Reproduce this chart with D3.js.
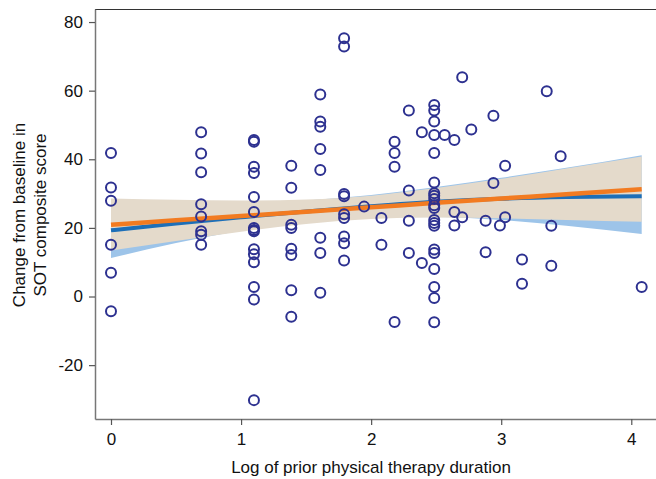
<!DOCTYPE html>
<html><head><meta charset="utf-8">
<script src="https://cdn.jsdelivr.net/npm/d3@7"></script>
<style>html,body{margin:0;padding:0;background:#fff;}svg{display:block;}</style>
</head><body>
<script>
// Observed points: x = log of prior PT duration, y = change in SOT composite score
const obsX = [
  0,0,0,0,0,0,
  0.693,0.693,0.693,0.693,0.693,0.693,0.693,0.693,
  1.099,1.099,1.099,1.099,1.099,1.099,1.099,1.099,1.099,1.099,1.099,1.099,1.099,1.099,1.099,
  1.386,1.386,1.386,1.386,1.386,1.386,1.386,1.386,
  1.609,1.609,1.609,1.609,1.609,1.609,1.609,1.609,
  1.792,1.792,1.792,1.792,1.792,1.792,1.792,1.792,1.792,
  1.946,
  2.079,2.079,
  2.18,2.18,2.18,2.18,
  2.29,2.29,2.29,2.29,
  2.39,2.39,
  2.485,2.485,2.485,2.485,2.485,2.485,2.485,2.485,2.485,2.485,2.485,2.485,2.485,2.485,2.485,2.485,2.485,2.485,2.485,2.485,
  2.565,
  2.64,2.64,2.64,
  2.70,2.70,
  2.77,
  2.88,2.88,
  2.94,2.94,
  2.99,
  3.03,3.03,
  3.16,3.16,
  3.35,
  3.385,3.385,
  3.457,
  4.08
];
const obsY = [
  41.8,31.8,27.9,15.1,6.9,-4.3,
  47.9,41.7,36.2,26.9,23.3,19.0,18.0,15.1,
  45.6,45.1,37.8,36.0,29.0,24.6,20.0,19.4,19.0,13.8,12.3,10.0,2.8,-0.9,-30.2,
  38.1,31.7,20.9,20.0,13.9,12.1,1.8,-5.9,
  58.9,51.0,49.5,43.0,36.9,17.1,12.7,1.1,
  75.3,72.9,29.9,29.2,24.0,22.9,17.5,15.5,10.5,
  26.2,
  22.9,15.1,
  45.1,41.8,37.8,-7.4,
  54.2,30.9,22.1,12.7,
  47.9,9.8,
  55.8,54.2,51.0,47.1,41.8,33.2,30.1,29.4,28.4,26.6,25.8,22.3,21.4,20.6,13.7,12.7,8.0,2.8,-0.4,-7.5,
  47.1,
  45.6,24.6,20.7,
  63.9,23.1,
  48.7,
  22.1,12.9,
  52.7,33.1,
  20.7,
  38.1,23.1,
  10.8,3.7,
  59.8,
  20.6,9.0,
  40.9,
  2.8
];

// Fitted curves
const fitX      = [0,    0.5,  1,    1.5,  2,    2.5,  3,    3.5,  4.08];
const linearFit = [20.9, 22.2, 23.45,24.7, 26.0, 27.3, 28.55,29.8, 31.3];
const linearLo  = [13.4, 16.2, 18.9, 21.1, 22.6, 23.0, 22.8, 22.3, 21.8];
const linearHi  = [28.6, 28.2, 28.0, 28.3, 29.4, 31.6, 34.3, 37.3, 40.8];
const quadFit   = [19.3, 21.3, 23.1, 24.8, 26.3, 27.6, 28.5, 29.0, 29.2];
const quadLo    = [11.2, 15.6, 19.2, 21.6, 23.0, 23.2, 22.3, 20.6, 18.2];
const quadHi    = [27.4, 26.9, 27.0, 28.0, 29.6, 31.9, 34.6, 37.5, 41.2];

const xTicks = [0, 1, 2, 3, 4];
const yTicks = [-20, 0, 20, 40, 60, 80];

const W = 656, H = 479;
const mLeft = 95, mRight = 656, mTop = 9, mBottom = 419;

const svg = d3.select("body").append("svg").attr("width", W).attr("height", H);
const x = d3.scaleLinear().domain([-0.123, 4.19]).range([mLeft, mRight]);
const y = d3.scaleLinear().domain([-35.7, 83.8]).range([mBottom, mTop]);

const font = "'Liberation Sans', Arial, Helvetica, sans-serif";

function band(lo, hi) {
  return d3.area().x((d, i) => x(fitX[i])).y0((d, i) => y(lo[i])).y1((d, i) => y(hi[i]))
    .curve(d3.curveMonotoneX)(fitX);
}
function line(vals) {
  return d3.line().x((d, i) => x(fitX[i])).y((d, i) => y(vals[i])).curve(d3.curveMonotoneX)(fitX);
}

svg.append("path").attr("d", band(quadLo, quadHi)).attr("fill", "#9dc4e9");
svg.append("path").attr("d", band(linearLo, linearHi)).attr("fill", "#e4dacb");
svg.append("path").attr("d", line(quadFit)).attr("fill", "none").attr("stroke", "#1d6fb8").attr("stroke-width", 4);
svg.append("path").attr("d", line(linearFit)).attr("fill", "none").attr("stroke", "#f27b21").attr("stroke-width", 4.5);

svg.append("g").selectAll("circle").data(obsX).join("circle")
  .attr("cx", (d) => x(d)).attr("cy", (d, i) => y(obsY[i])).attr("r", 5)
  .attr("fill", "none").attr("stroke", "#2d3190").attr("stroke-width", 2);

// frame
svg.append("line").attr("x1", mLeft).attr("x2", mRight).attr("y1", mTop + 0.5).attr("y2", mTop + 0.5)
  .attr("stroke", "#333").attr("stroke-width", 1.2);

// axes
const fmt = d => String(d);
const yAxis = svg.append("g").attr("transform", `translate(${mLeft},0)`)
  .call(d3.axisLeft(y).tickValues(yTicks).tickFormat(fmt).tickSize(6).tickPadding(6).tickSizeOuter(0));
const xAxis = svg.append("g").attr("transform", `translate(0,${mBottom})`)
  .call(d3.axisBottom(x).tickValues(xTicks).tickFormat(fmt).tickSize(6).tickPadding(8).tickSizeOuter(0));
[yAxis, xAxis].forEach(g => {
  g.select(".domain").attr("stroke", "#777").attr("stroke-width", 1.5);
  g.selectAll(".tick line").attr("stroke", "#555").attr("stroke-width", 1.2);
  g.selectAll(".tick text").attr("font-family", font).attr("font-size", 17).attr("fill", "#111");
});

svg.append("text").attr("x", 371).attr("y", 473).attr("text-anchor", "middle")
  .attr("font-family", font).attr("font-size", 17).attr("fill", "#111")
  .text("Log of prior physical therapy duration");

const yt = svg.append("text").attr("transform", "translate(25,215) rotate(-90)")
  .attr("text-anchor", "middle").attr("font-family", font).attr("font-size", 17).attr("fill", "#111");
yt.append("tspan").attr("x", 0).attr("y", 0).text("Change from baseline in");
yt.append("tspan").attr("x", 0).attr("y", 21).text("SOT composite score");
</script>
</body></html>
